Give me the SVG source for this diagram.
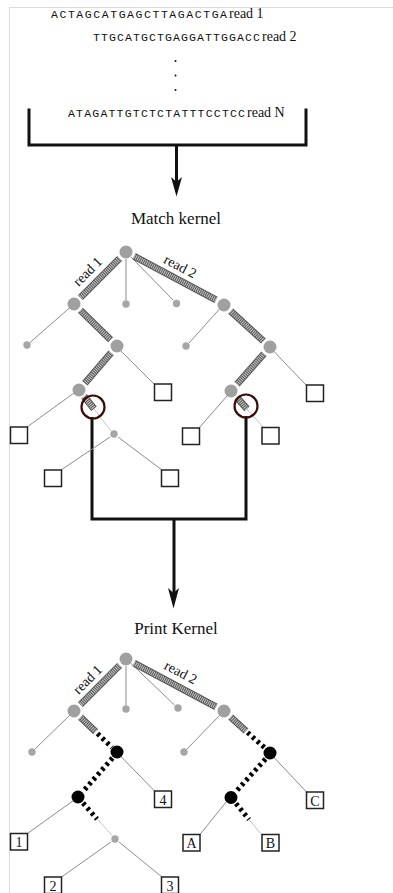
<svg xmlns="http://www.w3.org/2000/svg" width="393" height="893" viewBox="0 0 393 893">
  <style>
    .frame { stroke: #dcdcdc; stroke-width: 1; fill: none; }
    .seq { font-family: "Liberation Mono", "DejaVu Sans Mono", monospace; font-size: 11.5px; fill: #111; }
    .lbl { font-family: "Liberation Serif", "Times New Roman", serif; font-size: 14px; fill: #111; }
    .title { font-family: "Liberation Serif", "Times New Roman", serif; font-size: 17px; fill: #111; text-anchor: middle; }
    .bold { stroke: #111; stroke-width: 3; fill: none; stroke-linecap: square; }
    .thin { stroke: #8c8c8c; stroke-width: 1; fill: none; }
    .light { stroke: #c4c4c4; stroke-width: 1; fill: none; }
    .hatch-o { stroke: #555; stroke-width: 7; fill: none; }
    .hatch-i { stroke: #c8c8c8; stroke-width: 5; stroke-dasharray: 1 1; fill: none; }
    .dash { stroke: #000; stroke-width: 5; stroke-dasharray: 3 3.5; fill: none; }
    .big { fill: #a0a0a0; }
    .small { fill: #a6a6a6; }
    .black { fill: #000; }
    .leaf { fill: #fff; stroke: #222; stroke-width: 1.5; }
    .ring { fill: none; stroke: #3a0c0c; stroke-width: 2.2; }
    .leaftxt { font-family: "Liberation Serif", "Times New Roman", serif; font-size: 14px; fill: #111; text-anchor: middle; }
  </style>

  <!-- page frame -->
  <path class="frame" d="M9.5,893 V7.5 H393"/>

  <!-- input reads -->
  <g id="reads">
    <text class="seq" x="51" y="18" textLength="176" lengthAdjust="spacing">ACTAGCATGAGCTTAGACTGA</text>
    <text class="lbl" x="229" y="18">read 1</text>
    <text class="seq" x="93" y="40.5" textLength="167" lengthAdjust="spacing">TTGCATGCTGAGGATTGGACC</text>
    <text class="lbl" x="262" y="40.5">read 2</text>
    <circle cx="175.5" cy="61" r="1" fill="#111"/>
    <circle cx="175.5" cy="75.5" r="1" fill="#111"/>
    <circle cx="175.5" cy="90" r="1" fill="#111"/>
    <text class="seq" x="68" y="117" textLength="177" lengthAdjust="spacing">ATAGATTGTCTCTATTTCCTCC</text>
    <text class="lbl" x="247" y="117">read N</text>
  </g>

  <!-- connectors -->
  <g id="connectors">
    <path class="bold" d="M29,110 V145 H306 V110 M176.5,145 V184"/>
    <polygon points="171,177 176.5,196.5 182,177 176.5,182" fill="#111"/>
    <path class="bold" d="M92,418.5 V519 H246 V417.5 M174,519 V596"/>
    <polygon points="168,588 173.5,608.5 179,588 173.5,593" fill="#111"/>
  </g>

  <text class="title" x="176" y="224">Match kernel</text>

  <!-- match kernel tree -->
  <g id="match-tree">
    <!-- thin edges -->
    <path class="thin" d="M126,259 V300 M131,257 L173,300 M70,307.5 L30,342.5 M220,308.5 L189,343 M121,351 L154,384 M274,351.5 L306,385 M74,393 L27,427 M227,396 L199,428 M110,437 L61,470 M118,437 L162,470"/>
    <path class="light" d="M94,409 L111,431 M247,409 L263,427"/>
    <!-- hatched read paths -->
    <g>
      <path class="hatch-o" d="M119.6,258.4 L80.4,297.6 M134,256.2 L216,299.8 M80.4,310.3 L110.6,339.7 M111.1,352.8 L84.9,383.2 M230.6,311.1 L263.4,341 M264,353.7 L237,384.3 M84,396.3 L94,408.8 M237,397.7 L247,408.9"/>
      <path class="hatch-i" d="M119.6,258.4 L80.4,297.6 M134,256.2 L216,299.8 M80.4,310.3 L110.6,339.7 M111.1,352.8 L84.9,383.2 M230.6,311.1 L263.4,341 M264,353.7 L237,384.3 M84,396.3 L94,408.8 M237,397.7 L247,408.9"/>
    </g>
    <text class="lbl" transform="translate(88,272) rotate(-45)" text-anchor="middle" y="4">read 1</text>
    <text class="lbl" transform="translate(180,267) rotate(28)" text-anchor="middle" y="4">read 2</text>
    <!-- nodes -->
    <g id="m-root"><circle class="big" cx="126" cy="252" r="6.5"/></g>
    <g id="m-a"><circle class="big" cx="74" cy="304" r="6.5"/></g>
    <g id="m-b"><circle class="small" cx="126" cy="304" r="3.7"/></g>
    <g id="m-c"><circle class="small" cx="176.5" cy="303.5" r="3.7"/></g>
    <g id="m-d"><circle class="big" cx="224" cy="305" r="6.5"/></g>
    <g id="m-e"><circle class="small" cx="27" cy="345" r="3.7"/></g>
    <g id="m-f"><circle class="big" cx="117" cy="346" r="6.5"/></g>
    <g id="m-g"><circle class="small" cx="186" cy="346" r="3.7"/></g>
    <g id="m-h"><circle class="big" cx="270" cy="347" r="6.5"/></g>
    <g id="m-i"><circle class="big" cx="79" cy="390" r="6.5"/></g>
    <g id="m-j"><rect class="leaf" x="154.5" y="384" width="17" height="16.5"/></g>
    <g id="m-k"><circle class="big" cx="231" cy="391" r="6.5"/></g>
    <g id="m-l"><rect class="leaf" x="306.5" y="385" width="17" height="16.5"/></g>
    <g id="m-m"><rect class="leaf" x="10.5" y="427" width="17" height="16.5"/></g>
    <g id="m-n"><circle class="small" cx="114" cy="434" r="3.7"/></g>
    <g id="m-o"><rect class="leaf" x="182.5" y="428" width="17" height="16.5"/></g>
    <g id="m-p"><rect class="leaf" x="262" y="427.5" width="17" height="16.5"/></g>
    <g id="m-q"><rect class="leaf" x="44.5" y="470" width="17" height="16.5"/></g>
    <g id="m-r"><rect class="leaf" x="161.5" y="470" width="17" height="16.5"/></g>
    <g id="m-ring1"><circle class="ring" cx="93" cy="407" r="11.5"/></g>
    <g id="m-ring2"><circle class="ring" cx="246" cy="406" r="11.5"/></g>
  </g>

  <text class="title" x="176" y="634">Print Kernel</text>

  <!-- print kernel tree -->
  <g id="print-tree">
    <path class="thin" d="M126,666 V705 M131,663.5 L174.5,705 M70,715 L35,749 M220,715 L187,749 M121.5,757 L154.5,791 M274,757.5 L306.5,792 M73.5,800.5 L27.5,833.5 M226.5,801.5 L200,834.5 M111,842 L61.5,877 M119,842 L162,877"/>
    <path class="light" d="M96.5,818 L112,835.5 M249,819.5 L262,835"/>
    <g>
      <path class="hatch-o" d="M119.6,665.4 L80.4,704.6 M134,663.2 L216,706.8 M80.5,717.2 L95.7,731.7 M230.6,717 L246,731"/>
      <path class="hatch-i" d="M119.6,665.4 L80.4,704.6 M134,663.2 L216,706.8 M80.5,717.2 L95.7,731.7 M230.6,717 L246,731"/>
    </g>
    <path class="dash" d="M97.5,733.5 L112,747.5 M112.5,758 L83,791.5 M83,803 L97,819 M247.5,732.5 L265,748 M265.5,759 L236,791.5 M236,803.5 L249,819.5"/>
    <text class="lbl" transform="translate(88,680) rotate(-45)" text-anchor="middle" y="4">read 1</text>
    <text class="lbl" transform="translate(180.5,673) rotate(28)" text-anchor="middle" y="4">read 2</text>
    <g id="p-root"><circle class="big" cx="126" cy="659" r="6.5"/></g>
    <g id="p-a"><circle class="big" cx="74" cy="711" r="6.5"/></g>
    <g id="p-b"><circle class="small" cx="126" cy="709" r="3.7"/></g>
    <g id="p-c"><circle class="small" cx="178" cy="708" r="3.7"/></g>
    <g id="p-d"><circle class="big" cx="224" cy="711" r="6.5"/></g>
    <g id="p-e"><circle class="small" cx="32" cy="752" r="3.7"/></g>
    <g id="p-f"><circle class="black" cx="117" cy="752" r="6.5"/></g>
    <g id="p-g"><circle class="small" cx="184" cy="752" r="3.7"/></g>
    <g id="p-h"><circle class="black" cx="270" cy="753" r="6.5"/></g>
    <g id="p-i"><circle class="black" cx="78" cy="797" r="6.5"/></g>
    <g id="p-leaf4"><rect class="leaf" x="154.5" y="791" width="17" height="16.5"/><text class="leaftxt" x="163" y="804.5">4</text></g>
    <g id="p-k"><circle class="black" cx="231" cy="797.5" r="6.5"/></g>
    <g id="p-leafC"><rect class="leaf" x="306.5" y="792" width="17" height="16.5"/><text class="leaftxt" x="315" y="805.5">C</text></g>
    <g id="p-leaf1"><rect class="leaf" x="10.5" y="833.5" width="17" height="16.5"/><text class="leaftxt" x="19" y="847">1</text></g>
    <g id="p-n"><circle class="small" cx="115" cy="839" r="3.7"/></g>
    <g id="p-leafA"><rect class="leaf" x="183" y="834.5" width="17" height="16.5"/><text class="leaftxt" x="191.5" y="848">A</text></g>
    <g id="p-leafB"><rect class="leaf" x="262" y="834.5" width="17" height="16.5"/><text class="leaftxt" x="270.5" y="848">B</text></g>
    <g id="p-leaf2"><rect class="leaf" x="44.5" y="877" width="17" height="16.5"/><text class="leaftxt" x="53" y="890.5">2</text></g>
    <g id="p-leaf3"><rect class="leaf" x="161.5" y="877" width="17" height="16.5"/><text class="leaftxt" x="170" y="890.5">3</text></g>
  </g>
</svg>
